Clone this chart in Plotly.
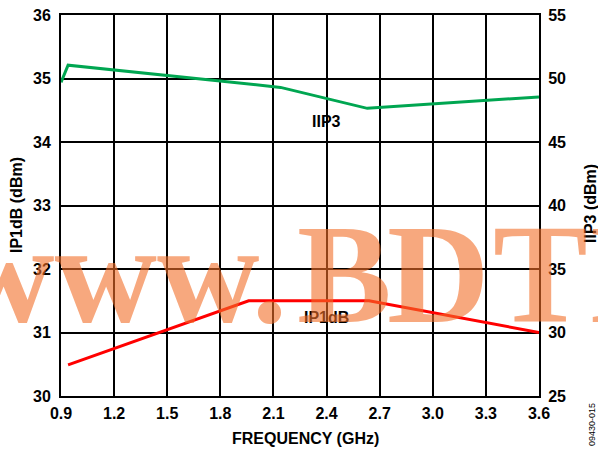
import plotly.graph_objects as go

# IP1dB (left axis, dBm)
ip1_freq = [0.94, 1.96, 2.64, 3.6]
ip1_val = [30.49, 31.5, 31.5, 31.0]

# IIP3 (right axis, dBm)
iip3_freq = [0.9, 0.94, 2.14, 2.63, 3.6]
iip3_val = [49.7, 51.05, 49.3, 47.65, 48.55]

x_ticks = [0.9, 1.2, 1.5, 1.8, 2.1, 2.4, 2.7, 3.0, 3.3, 3.6]

FONT = "Liberation Sans"
L, R, T, B = 61, 59, 15, 56
W, H = 598, 452
pw, ph = W - L - R, H - T - B

def px(xp):
    return (xp - L) / pw

def py(yp):
    return (H - B - yp) / ph

fig = go.Figure()
fig.add_trace(go.Scatter(x=iip3_freq, y=iip3_val, mode="lines", yaxis="y2",
                         line=dict(color="#00A651", width=3), showlegend=False))
fig.add_trace(go.Scatter(x=ip1_freq, y=ip1_val, mode="lines",
                         line=dict(color="#FF0000", width=3), showlegend=False))

tickfont = dict(family=FONT, size=16, color="black", weight="bold")
clear = "rgba(0,0,0,0)"
fig.update_layout(
    width=W, height=H,
    margin=dict(l=L, r=R, t=T, b=B, autoexpand=False),
    paper_bgcolor="white", plot_bgcolor="white",
    xaxis=dict(range=[0.9, 3.6], tickvals=x_ticks, tickformat=".1f",
               showgrid=True, gridcolor="black", gridwidth=1.5,
               showline=True, linecolor="black", linewidth=2, mirror=True,
               ticks="outside", ticklen=2, tickcolor=clear,
               tickfont=tickfont, zeroline=False),
    yaxis=dict(range=[30, 36], dtick=1, showgrid=True, gridcolor="black", gridwidth=1.5,
               showline=True, linecolor="black", linewidth=2, mirror=True,
               ticks="outside", ticklen=5, tickcolor=clear,
               tickfont=tickfont, zeroline=False),
    yaxis2=dict(range=[25, 55], dtick=5, overlaying="y", side="right",
                showgrid=False, ticks="outside", ticklen=5, tickcolor=clear,
                tickfont=tickfont, zeroline=False, showline=False),
)

bold16 = dict(family=FONT, size=16, color="black", weight="bold")
C = dict(xanchor="center", yanchor="middle", showarrow=False)
ann = [
    dict(text="IIP3", x=2.4, y=34.33, xref="x", yref="y", font=bold16, **C),
    dict(text="IP1dB", x=2.4, y=31.24, xref="x", yref="y", font=bold16, **C),
    dict(text="FREQUENCY (GHz)", x=px(305), y=py(438), xref="paper", yref="paper",
         font=bold16, **C),
    dict(text="IP1dB (dBm)", x=px(16), y=py(205), xref="paper", yref="paper",
         textangle=-90, font=bold16, **C),
    dict(text="IIP3 (dBm)", x=px(590), y=py(204), xref="paper", yref="paper",
         textangle=-90, font=bold16, **C),
    dict(text="09430-015", x=px(592), y=py(425), xref="paper", yref="paper",
         textangle=-90, font=dict(family=FONT, size=9, color="black"), **C),
]

# watermark, drawn piece by piece
wm_font = dict(family="Liberation Serif", size=142, color="rgba(242,110,40,0.6)",
               weight="bold")
wm_parts = [("www.", -50), ("B", 295), ("D", 385), ("T", 491), ("I", 586)]
for txt, xl in wm_parts:
    ann.append(dict(text=txt, x=px(xl), y=py(273.6), xref="paper", yref="paper",
                    xanchor="left", yanchor="middle", showarrow=False, font=wm_font))
fig.update_layout(annotations=ann)

fig.write_html("out.html", post_script="document.body.style.margin='0';",
               config={"displayModeBar": False})
